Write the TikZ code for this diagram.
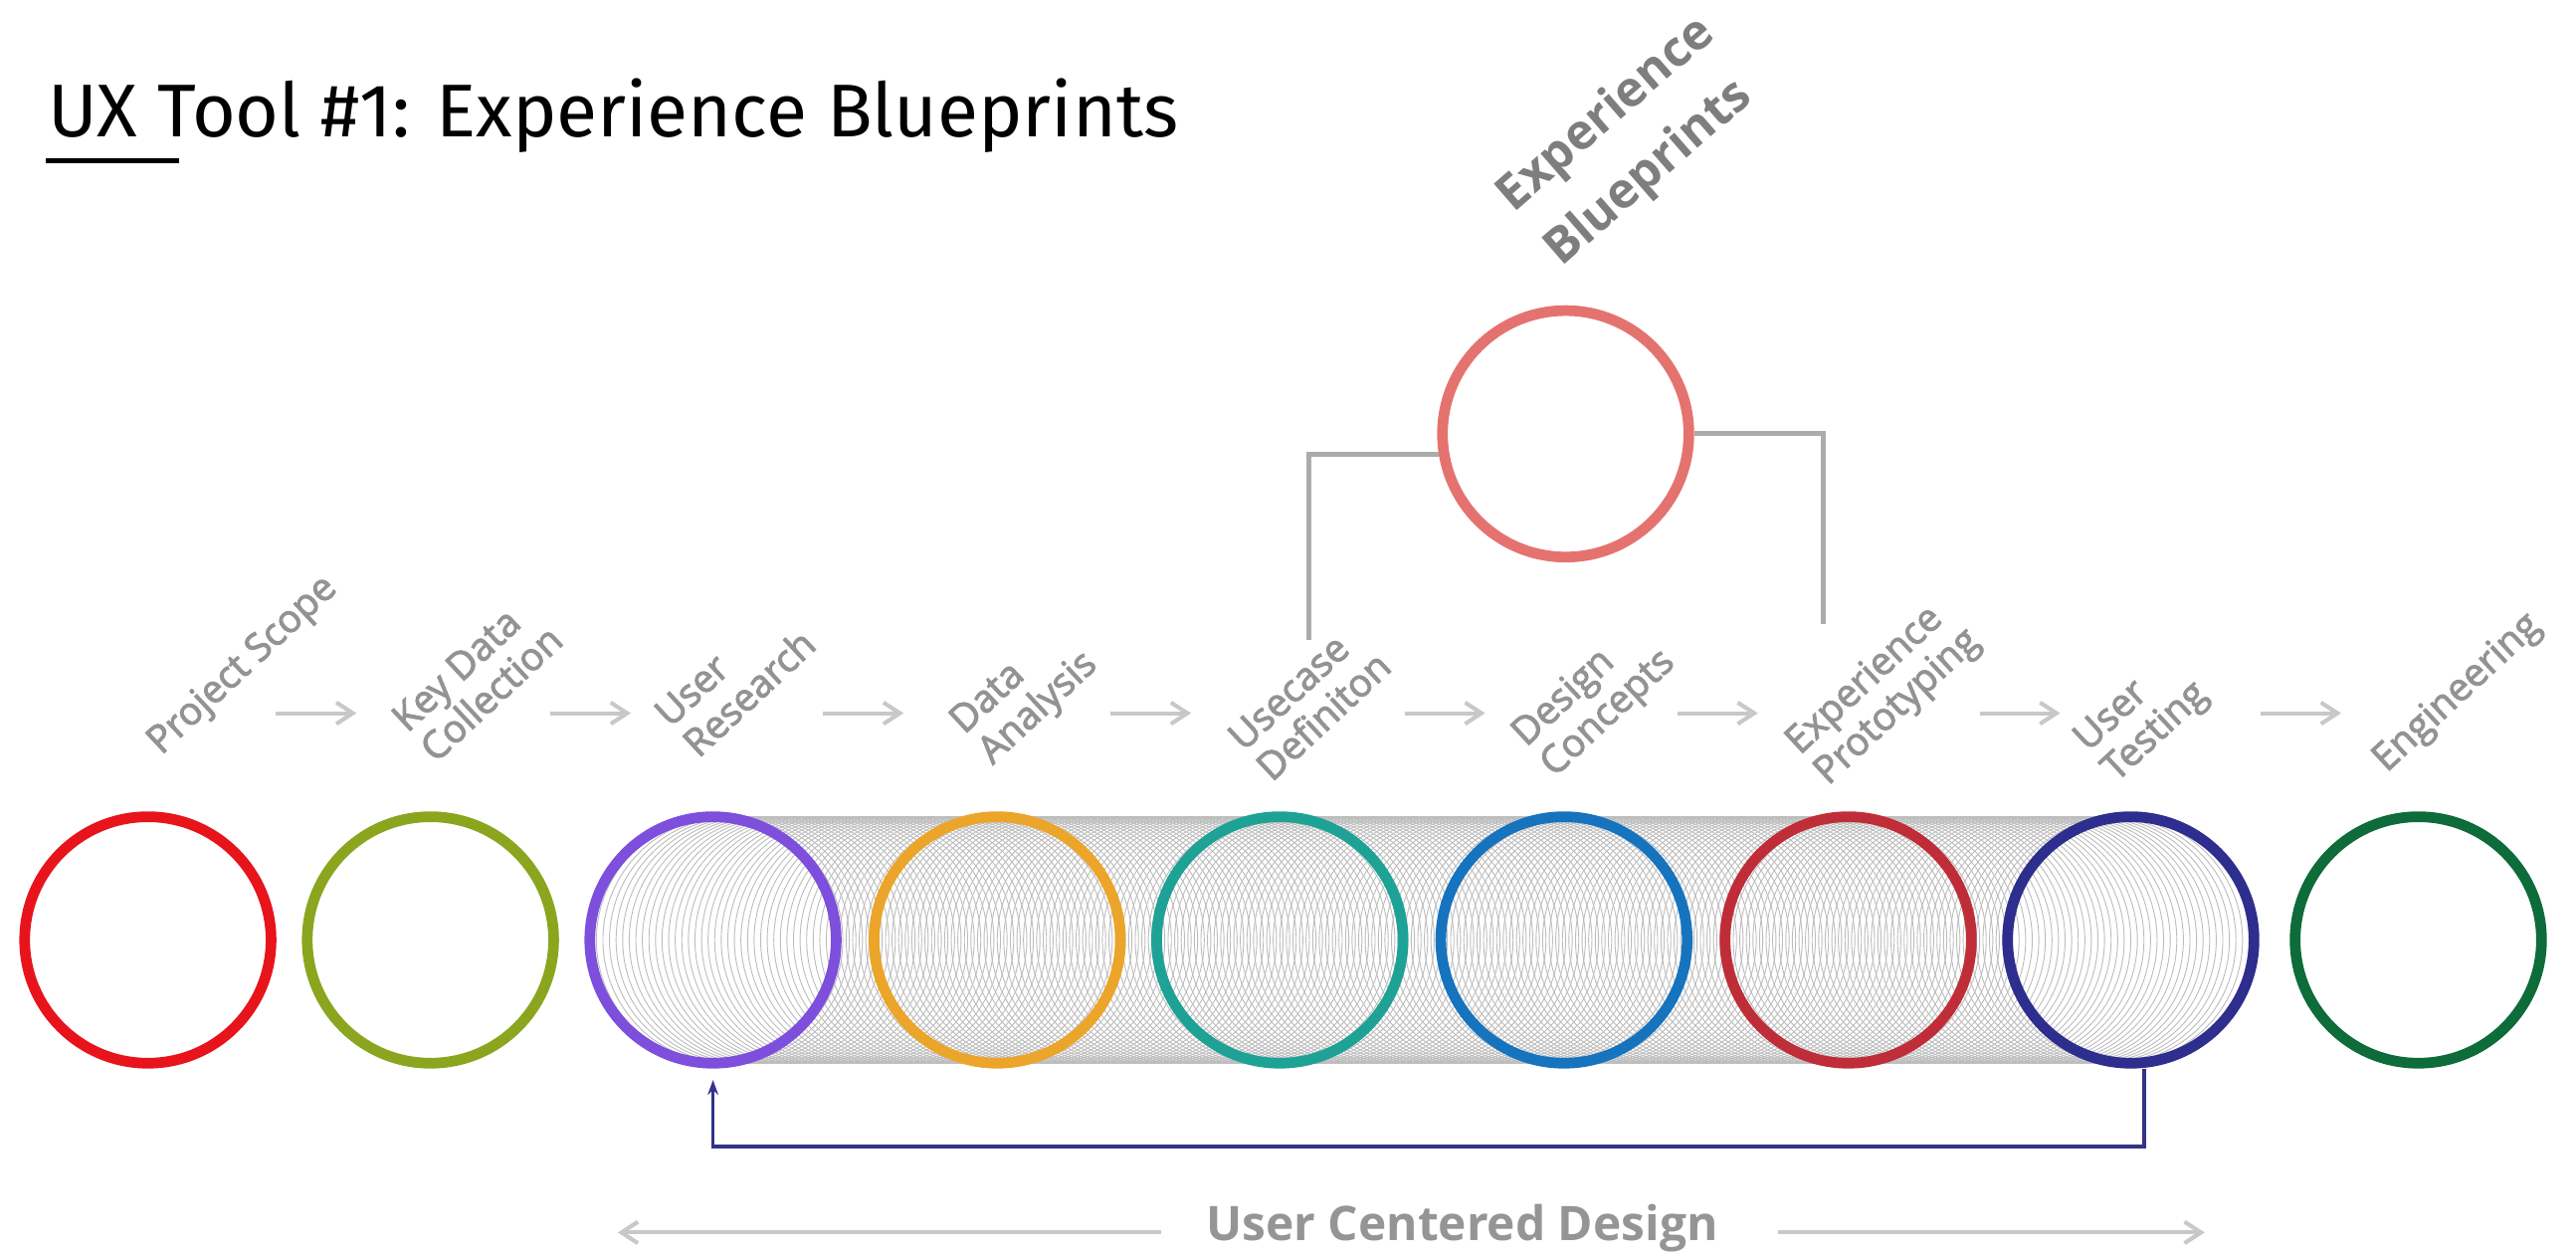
\documentclass[tikz,border=0pt]{standalone}
\usepackage{fontspec}
\setmainfont{Open Sans}
\newfontfamily\titlefont{Fira Sans}
\newfontfamily\stagefont[FakeBold=2.5]{Open Sans}
\usepackage{graphicx}
\usepackage{xcolor}
\usetikzlibrary{arrows.meta,positioning,calc}

\definecolor{scopered}{HTML}{E8141C}
\definecolor{keygreen}{HTML}{8CA51E}
\definecolor{respurple}{HTML}{7D4FDC}
\definecolor{dataorange}{HTML}{EBA52A}
\definecolor{useteal}{HTML}{1EA296}
\definecolor{designblue}{HTML}{1673BE}
\definecolor{protored}{HTML}{BF2E38}
\definecolor{testnavy}{HTML}{2E2E8E}
\definecolor{enggreen}{HTML}{0E6B3A}
\definecolor{bpsalmon}{HTML}{E4736F}
\definecolor{bpgray}{HTML}{7E7E7E}
\definecolor{bracketgray}{HTML}{A8ACAB}
\definecolor{labelgray}{HTML}{939393}
\definecolor{arrowgray}{HTML}{C8C8C8}
\definecolor{coilgray}{HTML}{BDBDBD}
\definecolor{loopnavy}{HTML}{33338A}
\definecolor{ucdgray}{HTML}{959595}

\begin{document}
\begin{tikzpicture}[
    x=0.02cm, y=0.02cm,
    ring/.style={circle, draw=#1, line width=0.13cm, minimum size=3cm, inner sep=0pt},
    coil/.style={draw=coilgray, line width=0.32pt},
    stage/.style={rotate=43, anchor=base west, inner sep=0pt, align=left,
      text=labelgray, font=\stagefont\fontsize{13.3}{14.4}\selectfont},
    steparrow/.style={arrowgray, line width=1.4pt, -{Straight Barb[length=0.2cm,width=0.26cm]}},
    bracket/.style={bracketgray, line width=0.06cm},
    feedback/.style={loopnavy, line width=0.045cm, -{Stealth[length=0.18cm,width=0.13cm]}},
    ucdarrow/.style={arrowgray, line width=0.05cm, -{Straight Barb[length=0.2cm,width=0.26cm]}},
  ]
  \pgfmathsetmacro{\cy}{193}
  \useasboundingbox (0,0) rectangle (1568,765);

  % title
  \node[anchor=base west, inner sep=0pt] (title) at (29,682)
    {\resizebox{13.76cm}{\height}{\titlefont\fontsize{25.9}{30}\selectfont UX Tool \#1: Experience Blueprints}};
  \draw[line width=0.06cm] (28,667) -- (109,667);

  % the coil behind the user centered part
  \foreach \x in {434,438,...,1294,1297}
    \draw[coil] (\x,\cy) circle[radius=75];

  % stages
  \node[ring=scopered]   (scope)  at (90,\cy)   {};
  \node[ring=keygreen]   (keydat) at (262,\cy)  {};
  \node[ring=respurple]  (ures)   at (434,\cy)  {};
  \node[ring=dataorange] (dana)   at (607,\cy)  {};
  \node[ring=useteal]    (ucase)  at (779,\cy)  {};
  \node[ring=designblue] (dcon)   at (952,\cy)  {};
  \node[ring=protored]   (xproto) at (1125,\cy) {};
  \node[ring=testnavy]   (utest)  at (1297,\cy) {};
  \node[ring=enggreen]   (eng)    at (1472,\cy) {};

  \node[stage] (lscope)  at (98,305)     {Project Scope};
  \node[stage] (lkeydat) at (265,300)    {Key Data\\Collection};
  \node[stage] (lures)   at (425,303)    {User\\Research};
  \node[stage] (ldana)   at (604,299)    {Data\\Analysis};
  \node[stage] (lucase)  at (774,288.5)  {Usecase\\Definiton};
  \node[stage] (ldcon)   at (946,291.4)  {Design\\Concepts};
  \node[stage] (lxproto) at (1112.6,286.5) {Experience\\Prototyping};
  \node[stage] (lutest)  at (1288,288.4) {User\\Testing};
  \node[stage] (leng)    at (1452.5,294.4) {Engineering};

  \foreach \xa in {168,335,501,676,855,1021,1205,1376}
    \draw[steparrow] (\xa,331) -- ++(49,0);

  % experience blueprints
  \node[ring=bpsalmon] (bp) at (953,501) {};
  \node[rotate=41, anchor=base west, inner sep=0pt, align=left, text=bpgray,
    font=\bfseries\fontsize{17}{25}\selectfont] (bptext) at (950,602) {Experience\\Blueprints};

  \coordinate (bl) at (796.5,375.5);
  \coordinate (br) at (1110,385);
  \draw[bracket] (bp.189) -| (bl);
  \draw[bracket] (bp.east) -| (br);

  % loop back
  \draw[feedback] ([xshift=0.16cm]utest.south) -- ++(0,-0.95cm) -| ([yshift=-0.14cm]ures.south);

  % user centered design
  \node[anchor=base, inner sep=0pt, text=ucdgray,
    font=\bfseries\fontsize{16.5}{19}\selectfont] (ucd) at (890,10) {User Centered Design};
  \coordinate (ucdl) at (376,15);
  \coordinate (ucdr) at (1342,15);
  \draw[ucdarrow] ($(ucd.west |- ucdl)+(-27,0)$) -- (ucdl);
  \draw[ucdarrow] ($(ucd.east |- ucdr)+(36,0)$) -- (ucdr);

\end{tikzpicture}
\end{document}
